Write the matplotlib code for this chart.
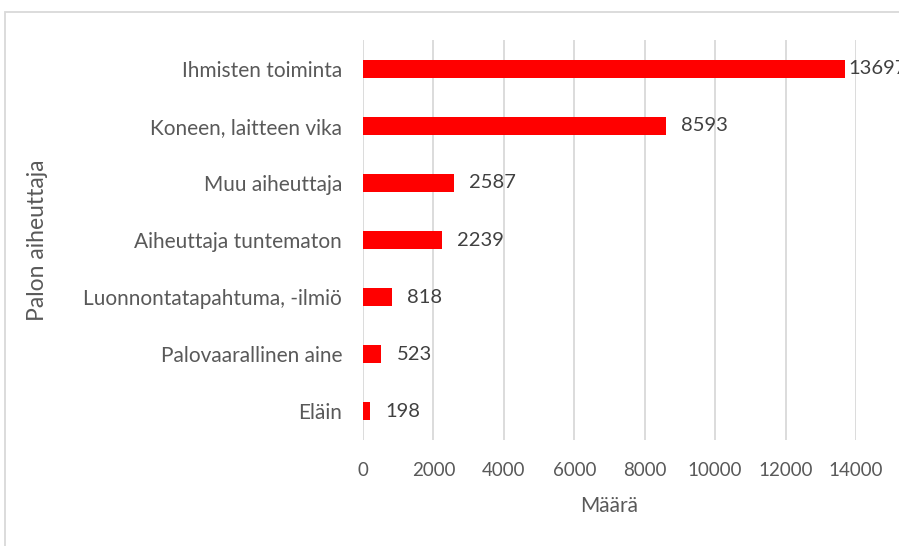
import matplotlib.pyplot as plt
from matplotlib.patches import Rectangle

categories = ['Eläin', 'Palovaarallinen aine', 'Luonnontatapahtuma, -ilmiö',
              'Aiheuttaja tuntematon', 'Muu aiheuttaja', 'Koneen, laitteen vika',
              'Ihmisten toiminta']
values = [198, 523, 818, 2239, 2587, 8593, 13697]
xticks = [0, 2000, 4000, 6000, 8000, 10000, 12000, 14000]

plt.rcParams['font.family'] = ['Lato', 'DejaVu Sans']
txt = '#595959'

fig = plt.figure(figsize=(8.99, 5.46), dpi=100)
ax = fig.add_axes([363 / 899, 1 - 440 / 546, (856 - 363) / 899, 400 / 546])

pos = range(len(categories))
ax.barh(pos, values, height=0.315, color='#ff0000', zorder=3)
for y, v in zip(pos, values):
    # the widest label sits closer to its bar, as in the source chart
    off = 2.5 if v == max(values) else 11
    ax.annotate(str(v), (v, y), xytext=(off, 0), textcoords='offset points',
                va='center', ha='left', fontsize=14.5, color='#404040',
                annotation_clip=False)

ax.set_xlim(0, 14000)
ax.set_ylim(-0.5, len(categories) - 0.5)
ax.set_xticks(xticks)
ax.set_yticks(list(pos))
ax.set_yticklabels(categories, fontsize=15)
ax.grid(axis='x', color='#d9d9d9', linewidth=1.3, zorder=0)
for s in ax.spines.values():
    s.set_visible(False)
ax.tick_params(length=0, colors=txt)
ax.tick_params(axis='x', pad=16, labelsize=13.5)
ax.tick_params(axis='y', pad=15)
ax.set_xlabel('Määrä', fontsize=15, color=txt)
ax.set_ylabel('Palon aiheuttaja', fontsize=16.5, color=txt)
ax.xaxis.set_label_coords(0.5, (440 - 506) / 400)
ax.yaxis.set_label_coords((38 - 363) / 493, 0.5)
ax.xaxis.label.set_va('center')
ax.yaxis.label.set_va('center')

# chart border (cropped screenshot)
fig.patches.append(Rectangle((5 / 899, -0.1), 1.1, 1 - 12 / 546 + 0.1,
                             transform=fig.transFigure, fill=False,
                             edgecolor='#d9d9d9', linewidth=1.3))

fig.savefig('out.png', dpi=100)
